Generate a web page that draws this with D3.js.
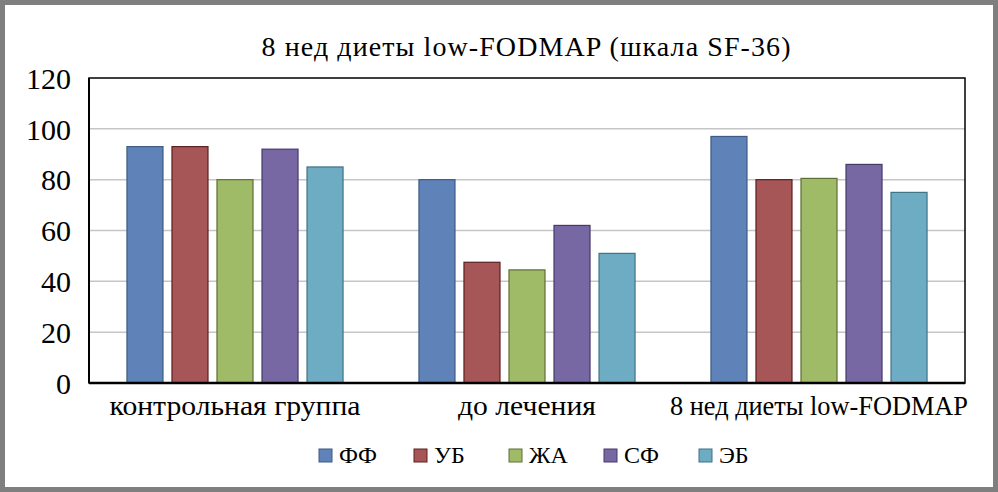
<!DOCTYPE html>
<html><head><meta charset="utf-8">
<script src="https://cdn.jsdelivr.net/npm/d3@7"></script>
<style>body{margin:0;background:#fff}svg{display:block}</style>
</head><body><svg id="c" width="998" height="492"></svg>
<script>
const categories = ["контрольная группа", "до лечения", "8 нед диеты low-FODMAP"];
const seriesNames = ["ФФ", "УБ", "ЖА", "СФ", "ЭБ"];
const FF = [93, 80, 97];
const UB = [93, 47.5, 80];
const ZhA = [80, 44.5, 80.5];
const SF = [92, 62, 86];
const EB = [85, 51, 75];
const yTicks = [0, 20, 40, 60, 80, 100, 120];
const title = "8 нед диеты low-FODMAP (шкала SF-36)";

// styling
const colors = ["#5f82b8", "#a65656", "#9fbb68", "#7767a3", "#6eacc3"];
const strokes = ["#3e5a85", "#5a2020", "#5e7034", "#463a6a", "#3f7385"];
const labelLengths = [251, 138, 298];
const FONT = "'Liberation Serif', 'Times New Roman', serif";

const values = [FF, UB, ZhA, SF, EB];
const svg = d3.select("#c");
const W = 998, H = 492;
const m = {l: 89, r: 33, t: 78, b: 109};
const pw = W - m.l - m.r, ph = H - m.t - m.b;

svg.append("rect").attr("x", 2.5).attr("y", 2.5).attr("width", W - 5).attr("height", H - 5)
  .attr("fill", "#fff").attr("stroke", "#7f7f7f").attr("stroke-width", 5);

const x0 = d3.scaleBand().domain(categories).range([m.l, m.l + pw]).paddingInner(0.26).paddingOuter(0.13);
const x1 = d3.scaleBand().domain(seriesNames).range([0, x0.bandwidth()]).paddingInner(0.2).paddingOuter(0);
const y = d3.scaleLinear().domain([0, 120]).range([m.t + ph, m.t]);

svg.append("g").selectAll("line").data(yTicks.filter(t => t > 0 && t < 120)).join("line")
  .attr("x1", m.l).attr("x2", m.l + pw).attr("y1", d => y(d)).attr("y2", d => y(d))
  .attr("stroke", "#c6c6c6").attr("stroke-width", 1.5);

const g = svg.append("g");
seriesNames.forEach((s, i) => {
  g.append("g").selectAll("rect").data(values[i]).join("rect")
    .attr("x", (d, j) => x0(categories[j]) + x1(s))
    .attr("y", d => y(d))
    .attr("width", x1.bandwidth())
    .attr("height", d => y(0) - y(d))
    .attr("fill", colors[i]).attr("stroke", strokes[i]).attr("stroke-width", 1.2);
});

svg.append("rect").attr("x", m.l).attr("y", m.t).attr("width", pw).attr("height", ph)
  .attr("fill", "none").attr("stroke", "#000").attr("stroke-width", 1.5);
svg.append("line").attr("x1", m.l).attr("x2", m.l + pw).attr("y1", y(0)).attr("y2", y(0))
  .attr("stroke", "#000").attr("stroke-width", 2.5);
svg.append("line").attr("x1", m.l).attr("x2", m.l).attr("y1", m.t).attr("y2", y(0))
  .attr("stroke", "#000").attr("stroke-width", 2);

const ya = d3.axisLeft(y).tickValues(yTicks).tickSize(0).tickPadding(18);
const yg = svg.append("g").attr("transform", `translate(${m.l},0)`).call(ya)
  .attr("font-family", FONT).attr("font-size", 30);
yg.select(".domain").remove();
yg.selectAll("text").attr("fill", "#000").attr("dy", "0.34em");

const xa = d3.axisBottom(x0).tickSize(0).tickPadding(12);
const xg = svg.append("g").attr("transform", `translate(0,${y(0)})`).call(xa)
  .attr("font-family", FONT).attr("font-size", 28);
xg.select(".domain").remove();
xg.selectAll("text").attr("fill", "#000")
  .attr("textLength", (d, i) => labelLengths[i]).attr("lengthAdjust", "spacingAndGlyphs");

svg.append("text").attr("x", 526).attr("y", 56).attr("text-anchor", "middle")
  .attr("font-family", FONT).attr("font-size", 28).attr("fill", "#000")
  .attr("textLength", 529).attr("lengthAdjust", "spacing").text(title);

const lx = d3.scalePoint().domain(seriesNames).range([319, 699]);
const lg = svg.append("g").attr("font-family", FONT).attr("font-size", 24).selectAll("g").data(seriesNames).join("g")
  .attr("transform", d => `translate(${lx(d)},449)`);
lg.append("rect").attr("width", 13).attr("height", 13)
  .attr("fill", (d, i) => colors[i]).attr("stroke", (d, i) => strokes[i]).attr("stroke-width", 1);
lg.append("text").attr("x", 20).attr("y", 14).attr("fill", "#000").text(d => d);
</script></body></html>
